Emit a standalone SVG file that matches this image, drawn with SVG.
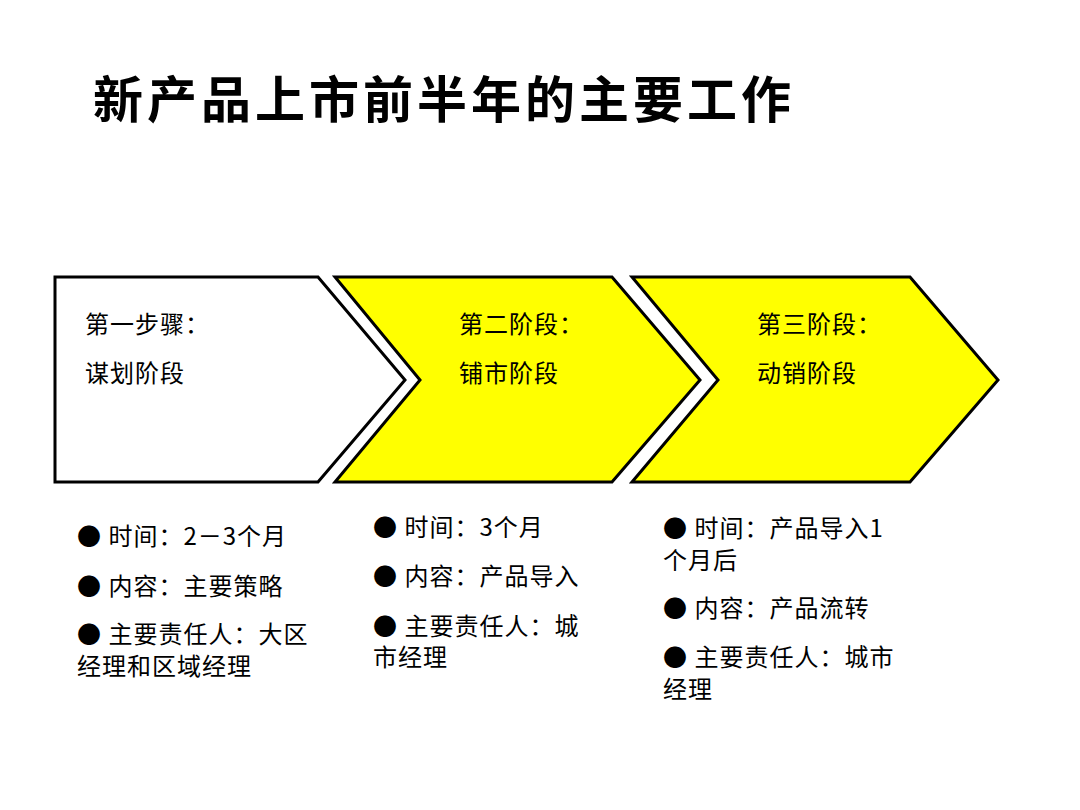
<svg xmlns="http://www.w3.org/2000/svg" width="1080" height="810" viewBox="0 0 1080 810">
<style>
.s{stroke:#000;stroke-width:3;stroke-linejoin:miter}
.t{font-family:"Noto Sans CJK SC","Liberation Sans",sans-serif;font-size:24px;letter-spacing:1px;fill:#000}
.h{font-family:"Noto Sans CJK SC","Liberation Sans",sans-serif;font-size:50px;letter-spacing:4px;font-weight:bold;fill:#000}
</style>
<rect width="1080" height="810" fill="#fff"/>
<text class="h" x="93" y="118">新产品上市前半年的主要工作</text>
<g id="connectors"></g>
<g id="step1">
<polygon class="s" fill="#fff" points="55,277 318,277 405,380 318,482 55,482"/>
<text class="t" x="85" y="333">第一步骤：</text>
<text class="t" x="85" y="382">谋划阶段</text>
</g>
<g id="step2">
<polygon class="s" fill="#ffff00" points="335,277 612,277 700,380 612,482 335,482 420,380"/>
<text class="t" x="459" y="333">第二阶段：</text>
<text class="t" x="459" y="382">铺市阶段</text>
</g>
<g id="step3">
<polygon class="s" fill="#ffff00" points="632,277 910,277 998,380 910,482 632,482 718,380"/>
<text class="t" x="757" y="333">第三阶段：</text>
<text class="t" x="757" y="382">动销阶段</text>
</g>
<g id="notes1">
<text class="t" x="77" y="545">● 时间：2－3个月</text>
<text class="t" x="77" y="595">● 内容：主要策略</text>
<text class="t" x="77" y="643">● 主要责任人：大区</text>
<text class="t" x="77" y="675">经理和区域经理</text>
</g>
<g id="notes2">
<text class="t" x="373" y="536">● 时间：3个月</text>
<text class="t" x="373" y="585">● 内容：产品导入</text>
<text class="t" x="373" y="635">● 主要责任人：城</text>
<text class="t" x="373" y="666">市经理</text>
</g>
<g id="notes3">
<text class="t" x="663" y="537">● 时间：产品导入1</text>
<text class="t" x="663" y="569">个月后</text>
<text class="t" x="663" y="617">● 内容：产品流转</text>
<text class="t" x="663" y="666">● 主要责任人：城市</text>
<text class="t" x="663" y="698">经理</text>
</g>
</svg>
